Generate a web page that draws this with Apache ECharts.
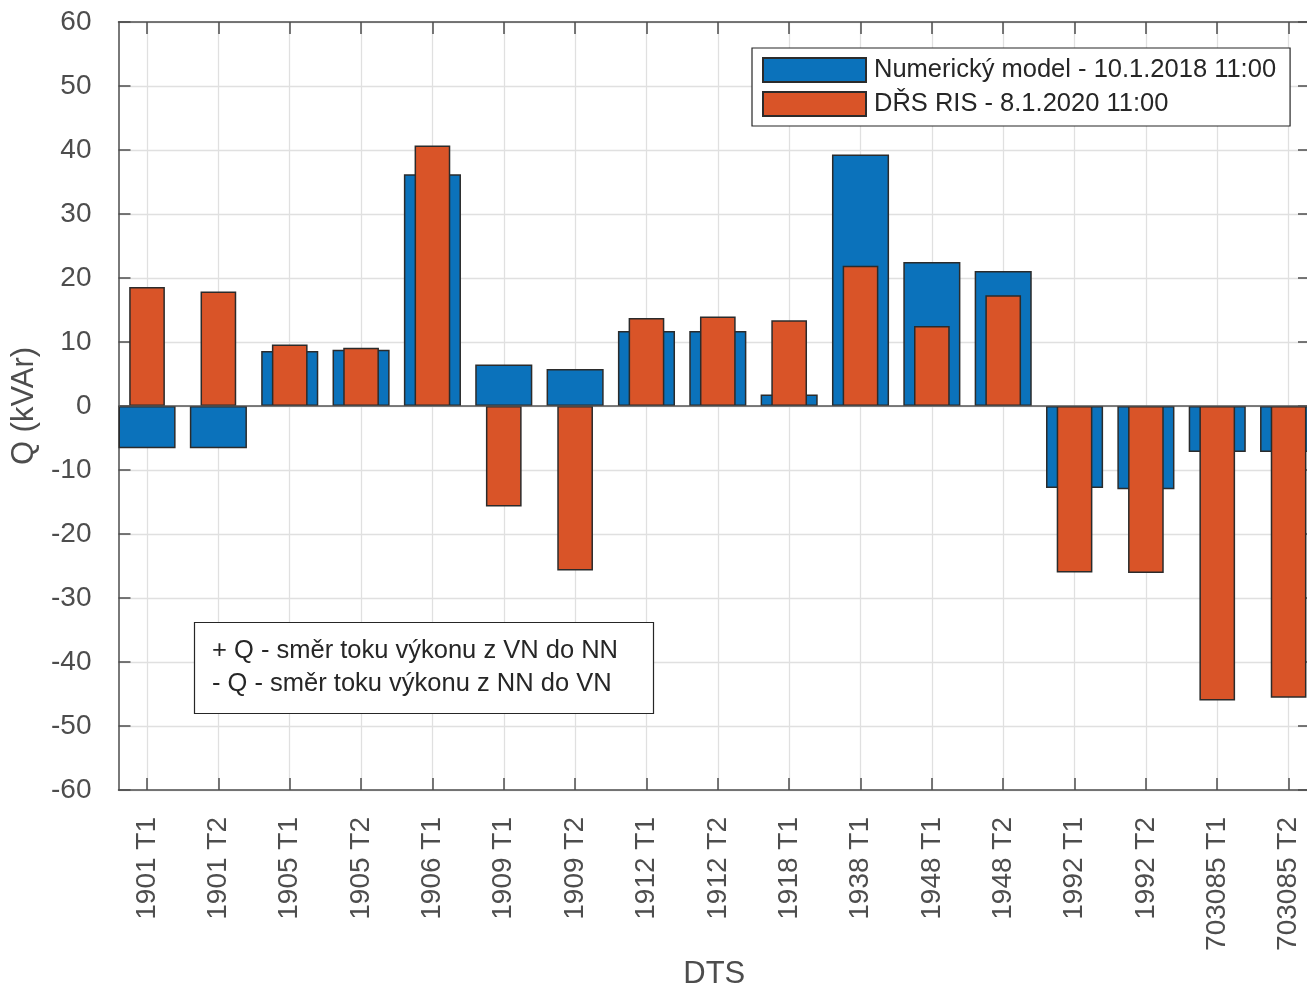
<!DOCTYPE html>
<html>
<head>
<meta charset="utf-8">
<title>Q (kVAr) - DTS</title>
<script src="https://cdn.jsdelivr.net/npm/echarts@6/dist/echarts.min.js"></script>
<style>
  html, body { margin: 0; padding: 0; background: #fff; overflow: hidden; }
  #chart { width: 1307px; height: 988px; }
</style>
</head>
<body>
<div id="chart"></div>
<script>
// DTS (transformátory) na ose x
var categories = ['1901 T1', '1901 T2', '1905 T1', '1905 T2', '1906 T1', '1909 T1', '1909 T2',
  '1912 T1', '1912 T2', '1918 T1', '1938 T1', '1948 T1', '1948 T2', '1992 T1', '1992 T2',
  '703085 T1', '703085 T2'];
// Numerický model - 10.1.2018 11:00
var modelValues = [-6.6, -6.6, 8.6, 8.8, 36.2, 6.5, 5.8, 11.7, 11.7, 1.8, 39.3, 22.5, 21.1,
  -12.8, -13.0, -7.2, -7.2];
// DŘS RIS - 8.1.2020 11:00
var risValues = [18.6, 17.9, 9.6, 9.1, 40.7, -15.7, -25.7, 13.75, 14.0, 13.4, 21.9, 12.5, 17.3,
  -26.0, -26.1, -46.0, -45.6];
var yMin = -60, yMax = 60, yStep = 10;
var tickPositions = categories.map(function (c, i) { return i + 1; });

var font = '"Liberation Sans", Arial, Helvetica, sans-serif';
var axisColor = '#4d4d4d';
var textColor = '#262626';
var gridColor = '#e0e0e0';
var edgeColor = '#2b2b2b';

function pairs(values) {
  return values.map(function (v, i) { return [i + 1, v]; });
}

var chart = echarts.init(document.getElementById('chart'));

var option = {
  backgroundColor: '#fff',
  animation: false,
  title: {
    text: '+ Q - směr toku výkonu z VN do NN\n- Q - směr toku výkonu z NN do VN',
    left: 194,
    top: 622,
    padding: [12, 36, 14, 18],
    borderColor: textColor,
    borderWidth: 1.2,
    backgroundColor: '#fff',
    textStyle: { fontFamily: font, fontSize: 25.5, fontWeight: 'normal', color: textColor, lineHeight: 33 }
  },
  legend: {
    orient: 'vertical',
    left: 752,
    top: 48,
    padding: [5, 14, 5, 10],
    itemGap: 0,
    itemWidth: 103,
    itemHeight: 24,
    icon: 'rect',
    borderColor: textColor,
    borderWidth: 1.2,
    backgroundColor: '#fff',
    textStyle: { fontFamily: font, fontSize: 25.5, color: textColor, lineHeight: 30, padding: [4, 0, 0, 3] },
    data: ['Numerický model - 10.1.2018 11:00', 'DŘS RIS - 8.1.2020 11:00']
  },
  grid: { left: 118.5, top: 22, width: 1191.5, height: 768, outerBoundsMode: 'none', containLabel: false },
  xAxis: [
    {
      type: 'value',
      position: 'bottom',
      min: 0.6,
      max: 17.3,
      name: 'DTS',
      nameLocation: 'middle',
      nameGap: 169,
      nameTextStyle: { fontFamily: font, fontSize: 31, color: axisColor },
      axisLine: { onZero: false, lineStyle: { color: axisColor, width: 1.5 } },
      axisTick: { inside: true, length: 12, customValues: tickPositions, lineStyle: { color: axisColor, width: 1.5 } },
      axisLabel: {
        customValues: tickPositions,
        rotate: 90,
        margin: 27,
        fontFamily: font,
        fontSize: 28,
        color: axisColor,
        formatter: function (v) { return categories[Math.round(v) - 1] || ''; }
      },
      splitLine: { show: true, lineStyle: { color: gridColor, width: 1.3 } }
    },
    {
      type: 'value',
      position: 'top',
      min: 0.6,
      max: 17.3,
      axisLine: { onZero: false, lineStyle: { color: axisColor, width: 1.5 } },
      axisTick: { inside: true, length: 12, customValues: tickPositions, lineStyle: { color: axisColor, width: 1.5 } },
      axisLabel: { show: false },
      splitLine: { show: false }
    }
  ],
  yAxis: [
    {
      type: 'value',
      min: yMin,
      max: yMax,
      interval: yStep,
      name: 'Q (kVAr)',
      nameLocation: 'middle',
      nameGap: 71,
      nameTextStyle: { fontFamily: font, fontSize: 31, color: axisColor },
      axisLine: { show: true, onZero: false, lineStyle: { color: axisColor, width: 1.5 } },
      axisTick: { show: true, inside: true, length: 12, lineStyle: { color: axisColor, width: 1.5 } },
      axisLabel: { margin: 27, fontFamily: font, fontSize: 28, color: axisColor },
      splitLine: { show: true, lineStyle: { color: gridColor, width: 1.3 } }
    },
    {
      type: 'value',
      position: 'right',
      min: yMin,
      max: yMax,
      interval: yStep,
      axisLine: { show: true, onZero: false, lineStyle: { color: axisColor, width: 1.5 } },
      axisTick: { show: true, inside: true, length: 12, lineStyle: { color: axisColor, width: 1.5 } },
      axisLabel: { show: false },
      splitLine: { show: false }
    }
  ],
  series: [
    {
      name: 'Numerický model - 10.1.2018 11:00',
      type: 'bar',
      xAxisIndex: 0,
      yAxisIndex: 0,
      barWidth: 57.1,
      data: pairs(modelValues),
      itemStyle: { color: '#0b72bb', borderColor: edgeColor, borderWidth: 1.5 },
      markLine: {
        silent: true,
        symbol: 'none',
        label: { show: false },
        lineStyle: { color: '#555', width: 1.5, type: 'solid' },
        data: [{ yAxis: 0 }]
      }
    },
    {
      name: 'DŘS RIS - 8.1.2020 11:00',
      type: 'bar',
      xAxisIndex: 1,
      yAxisIndex: 0,
      barWidth: 35.7,
      data: pairs(risValues),
      itemStyle: { color: '#d95428', borderColor: edgeColor, borderWidth: 1.5 }
    }
  ]
};

chart.setOption(option);
</script>
</body>
</html>
